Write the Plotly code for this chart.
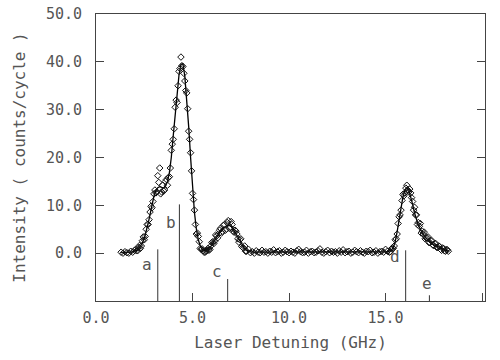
import numpy as np
import plotly.graph_objects as go

# ---- fit curve (GHz, counts/cycle) ----
curve_x = np.round(np.arange(1.3, 18.2001, 0.1), 2)
curve_y = [
    0.1, 0.1, 0.1, 0.1, 0.2, 0.2, 0.3, 0.4, 0.6, 0.9,          # 1.3-2.2
    1.4, 2.1, 3.1, 4.5, 6.2, 8.1, 10.1, 11.9, 13.1, 13.7,      # 2.3-3.2
    13.9, 13.7, 13.6, 14.0, 15.0, 16.8, 20.0, 24.5, 29.0, 33.5, # 3.3-4.2
    37.3, 39.5, 39.6, 37.0, 32.5, 26.5, 20.0, 13.5, 8.5, 5.0,  # 4.3-5.2
    2.8, 1.5, 0.8, 0.5, 0.5, 0.7, 1.1, 1.7, 2.4, 3.1,          # 5.3-6.2
    3.8, 4.4, 4.9, 5.3, 5.6, 5.8, 5.8, 5.6, 5.1, 4.4,          # 6.3-7.2
    3.6, 2.8, 2.0, 1.4, 0.9, 0.6, 0.4, 0.3,                    # 7.3-8.0
] + [0.2] * 70 + [                                             # 8.1-15.0
    0.3, 0.4, 0.6, 1.2, 2.4, 4.5, 7.0, 9.6, 11.8, 13.2,        # 15.1-16.0
    13.7, 13.3, 12.0, 10.2, 8.4, 6.9, 5.8, 5.0, 4.2, 3.6,      # 16.1-17.0
    3.1, 2.7, 2.4, 2.1, 1.8, 1.6, 1.3, 1.1, 0.9, 0.7,          # 17.1-18.0
    0.6, 0.5,                                                  # 18.1-18.2
]

# ---- measured points, scan 1 (same x grid as the curve) ----
data1_y = [
    0.2, 0.0, 0.3, 0.1, 0.0, 0.4, 0.2, 0.6, 0.5, 1.2,
    1.0, 2.6, 2.8, 5.0, 6.0, 8.6, 9.5, 12.4, 12.6, 16.2,
    17.8, 12.8, 13.0, 15.0, 14.2, 16.0, 21.5, 23.8, 30.5, 31.5,
    38.0, 41.0, 39.0, 36.0, 33.5, 25.5, 21.0, 12.5, 9.0, 4.0,
    3.5, 1.0, 0.9, 0.2, 0.4, 1.0, 0.8, 2.2, 2.0, 3.8,
    3.2, 4.8, 4.2, 5.8, 4.8, 6.4, 5.2, 6.6, 4.6, 4.8,
    4.0, 2.3, 3.0, 1.2, 1.5, 0.4, 0.8, 0.1,
    0.3, 0.0, 0.5, 0.2, 0.1, 0.6, 0.2, 0.3, 0.0, 0.4,
    0.2, 0.7, 0.1, 0.3, 0.5, 0.0, 0.2, 0.6, 0.3, 0.1,
    0.4, 0.2, 0.0, 0.5, 0.8, 0.3, 0.1, 0.2, 0.6, 0.0,
    0.3, 0.4, 0.1, 0.2, 0.5, 0.9, 0.2, 0.0, 0.3, 0.6,
    0.1, 0.4, 0.2, 0.3, 0.0, 0.5, 0.2, 0.7, 0.1, 0.3,
    0.4, 0.0, 0.2, 0.6, 0.3, 0.1, 0.5, 0.2, 0.0, 0.4,
    0.3, 0.6, 0.1, 0.2, 0.5, 0.0, 0.3, 0.4, 0.2, 0.8,
    0.4, 0.2, 0.9, 1.0, 2.8, 4.0, 7.6, 9.0, 12.3, 12.6,
    14.2, 12.8, 12.6, 10.8, 9.6, 8.0, 6.4, 6.2, 4.6, 4.4,
    3.2, 3.4, 2.2, 2.6, 1.6, 2.0, 1.2, 1.4, 0.6, 1.0,
    0.4, 0.7,
]

# ---- measured points, scan 2 (peak regions) ----
data2a_x = np.round(np.arange(2.05, 7.7501, 0.1), 2)
data2a_y = [
    0.8, 0.5, 1.6, 1.5, 3.4, 3.5, 6.0, 7.0, 9.8, 10.8,
    13.2, 12.8, 14.8, 12.4, 14.2, 13.2, 15.4, 15.8, 17.8, 22.8,
    26.0, 32.0, 35.0, 38.6, 39.2, 37.6, 34.0, 30.2, 23.8, 17.2,
    11.2, 6.0, 4.2, 2.4, 0.8, 0.5, 0.2, 0.6, 0.6, 1.5,
    2.4, 2.5, 3.6, 4.0, 5.2, 4.6, 6.0, 5.0, 6.8, 5.4,
    6.0, 4.4, 4.6, 3.0, 2.8, 1.4, 1.0, 0.4,
]
data2b_x = np.round(np.arange(15.25, 18.2501, 0.1), 2)
data2b_y = [
    0.3, 1.1, 1.5, 3.0, 6.2, 8.0, 11.0, 12.0, 13.6, 13.2,
    13.4, 11.6, 9.0, 8.0, 6.0, 5.6, 4.2, 4.0, 3.0, 3.2,
    2.2, 2.6, 1.7, 2.0, 1.2, 1.5, 0.8, 1.1, 0.5, 0.8,
    0.4,
]

# ---- transition sticks ----
stick_labels = ["a", "b", "c", "d", "e"]
stick_x = [3.2, 4.32, 6.82, 16.04, 17.27]
stick_h = [0.8, 10.2, -5.4, 0.6, -8.8]
label_x = [2.62, 3.86, 6.27, 15.47, 17.17]
label_y = [-2.3, 6.5, -3.8, -0.8, -6.3]
y_floor = -10

x_ticks = [0, 5, 10, 15, 20]
x_ticklabels = ["0.0", "5.0", "10.0", "15.0", "20.0"]
y_ticks = [0, 10, 20, 30, 40, 50]
y_ticklabels = ["0.0", "10.0", "20.0", "30.0", "40.0", "50.0"]

FONT = "DejaVu Sans Mono"
TXT = "#555555"

sx, sy = [], []
for xv, hv in zip(stick_x, stick_h):
    sx += [xv, xv, None]
    sy += [y_floor, hv, None]

fig = go.Figure()
fig.add_trace(go.Scatter(x=sx, y=sy, mode="lines",
                         line=dict(color="#333", width=1), hoverinfo="skip"))
fig.add_trace(go.Scatter(x=curve_x, y=curve_y, mode="lines",
                         line=dict(color="black", width=1.3)))
marker_style = dict(symbol="diamond-open", size=5, color="#111",
                    line=dict(width=1, color="#111"))
fig.add_trace(go.Scatter(x=curve_x, y=data1_y, mode="markers", marker=marker_style))
fig.add_trace(go.Scatter(x=data2a_x, y=data2a_y, mode="markers", marker=marker_style))
fig.add_trace(go.Scatter(x=data2b_x, y=data2b_y, mode="markers", marker=marker_style))

for lab, lx, ly in zip(stick_labels, label_x, label_y):
    fig.add_annotation(x=lx, y=ly, text=lab, showarrow=False,
                       font=dict(family=FONT, size=16, color=TXT))

fig.update_layout(
    width=500, height=360,
    margin=dict(l=96, r=15, t=14, b=59),
    paper_bgcolor="white", plot_bgcolor="white",
    showlegend=False,
    font=dict(family=FONT, size=15, color=TXT),
)
fig.update_xaxes(
    range=[0, 20.15], tickvals=x_ticks, ticktext=x_ticklabels,
    ticks="inside", ticklen=8, tickcolor="#444",
    showline=True, linecolor="#444", linewidth=1, mirror=True,
    showgrid=False, zeroline=False, ticklabelstandoff=3,
    title=dict(text="Laser Detuning (GHz)", standoff=10,
               font=dict(family=FONT, size=16, color=TXT)),
    automargin=False,
)
fig.update_yaxes(
    range=[-10, 50], tickvals=y_ticks, ticktext=y_ticklabels,
    ticks="inside", ticklen=8, tickcolor="#444",
    showline=True, linecolor="#444", linewidth=1, mirror="ticks",
    showgrid=False, zeroline=False, ticklabelstandoff=10,
    title=dict(text="Intensity ( counts/cycle )", standoff=16,
               font=dict(family=FONT, size=16, color=TXT)),
    automargin=False,
)

fig.write_html("out.html", config={"displayModeBar": False},
               post_script="document.body.style.margin='0';document.body.style.overflow='hidden';")
